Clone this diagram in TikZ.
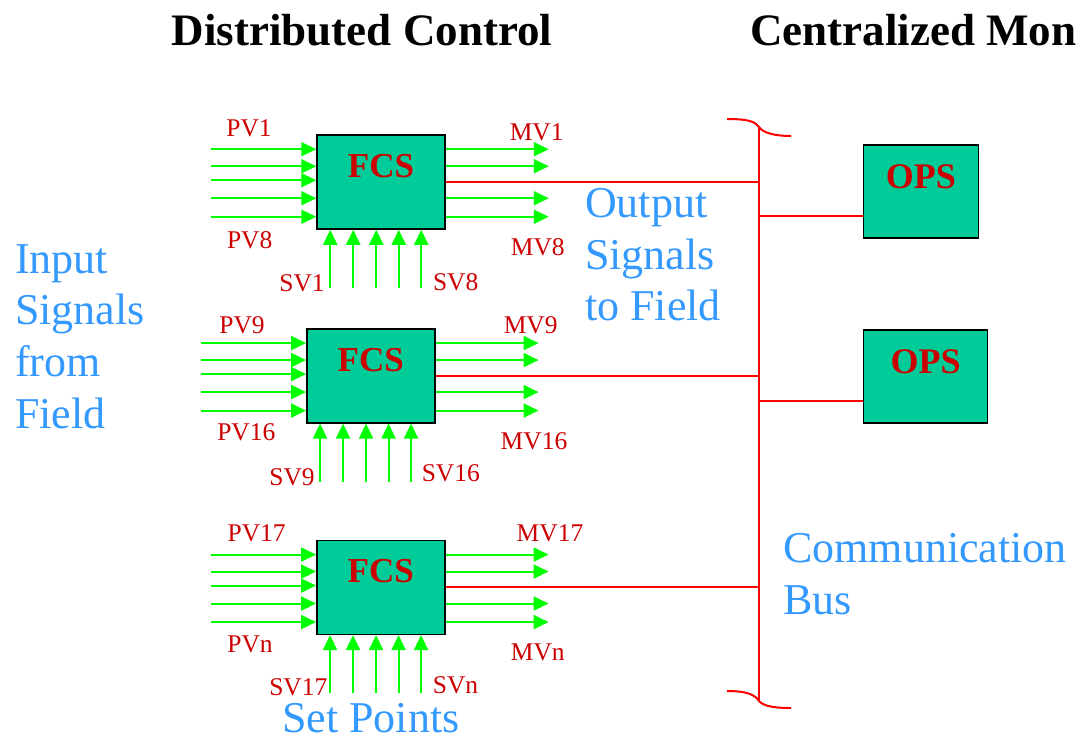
\documentclass[tikz,border=0pt]{standalone}
\usepackage{fontspec}
\setmainfont{Liberation Serif}
\usetikzlibrary{arrows.meta}
\definecolor{boxgreen}{HTML}{00CC99}
\definecolor{siggreen}{HTML}{00FF00}
\definecolor{tagred}{HTML}{CC0000}
\definecolor{busred}{HTML}{FF0000}
\definecolor{noteblue}{HTML}{3399FF}
\tikzset{
    unit/.style={draw, line width=1.5pt, fill=boxgreen, inner sep=0pt},
    fcs/.style={unit, minimum width=128pt, minimum height=94pt},
    unitname/.style={text=tagred, font=\fontsize{35}{40}\selectfont\bfseries, anchor=base, inner sep=0pt},
    tag/.style={text=tagred, font=\fontsize{25.5}{30}\selectfont, anchor=base, inner sep=0pt},
    note/.style={text=noteblue, font=\fontsize{44}{51.7}\selectfont, align=left, anchor=north west, inner sep=0pt},
    heading/.style={font=\fontsize{45}{50}\selectfont\bfseries, anchor=base west, inner sep=0pt},
    sig/.style={draw=siggreen, line width=2pt, -{Triangle[length=15pt, width=14pt]}},
    bus/.style={draw=busred, line width=2pt}
}
\begin{document}
\begin{tikzpicture}[x=1pt, y=-1pt]
\useasboundingbox (0,0) rectangle (1077,740);
\clip (0,0) rectangle (1077,740);

% headings
\node[heading] (hdist) at (171.7,45) {Distributed Control};
\node[heading] (hcent) at (750,45) {Centralized Monitoring};

% field control stations
\node[fcs] (fcsA) at (381,182) {};
\node[fcs] (fcsB) at (370.8,375.8) {};
\node[fcs] (fcsC) at (380.8,587.3) {};
\foreach \b in {fcsA,fcsB,fcsC}
  \node[unitname] (\b-t) at ([yshift=-43pt]\b.north) {FCS};

% operator stations
\node[unit, minimum width=115pt, minimum height=93pt] (opsA) at (920.8,191.5) {};
\node[unit, minimum width=124pt, minimum height=93pt] (opsB) at (925.5,376.7) {};
\foreach \b in {opsA,opsB}
  \node[unitname, font=\fontsize{36}{40}\selectfont\bfseries] (\b-t) at ([yshift=-44pt]\b.north) {OPS};

% signal arrows
\foreach \b in {fcsA,fcsB,fcsC}{
  \foreach \o in {15,32,46,64,82.5}
    \draw[sig] ([xshift=-105pt,yshift=-\o pt]\b.north west) -- ([yshift=-\o pt]\b.north west);
  \foreach \o in {15,32,64,82.5}
    \draw[sig] ([yshift=-\o pt]\b.north east) -- ([xshift=103pt,yshift=-\o pt]\b.north east);
  \foreach \o in {14,37,60,82.5,105}
    \draw[sig] ([xshift=\o pt,yshift=-58pt]\b.south west) -- ([xshift=\o pt]\b.south west);
}

% communication bus
\coordinate (busTop) at (759,127);
\coordinate (busBot) at (759,701);
\draw[bus] (busTop) -- (busBot);
\draw[bus] (727,119) .. controls (750,119) and (755,122) .. (busTop)
  .. controls (763,133) and (775,136) .. (791,136);
\draw[bus] (727,691) .. controls (748,691) and (755,695) .. (busBot)
  .. controls (764,707) and (778,708) .. (791,708);
\foreach \b in {fcsA,fcsB,fcsC}
  \draw[bus] (\b.east) -- (\b.east -| busTop);
\foreach \b in {opsA,opsB}{
  \coordinate (\b-in) at ([yshift=-24pt]\b.west);
  \draw[bus] (\b-in) -- (\b-in -| busTop);
}

% signal tags
\node[tag] (pvA) at (249,136) {PV1};
\node[tag] (pvAn) at (249.7,248) {PV8};
\node[tag] (mvA) at (536.7,140) {MV1};
\node[tag] (mvAn) at (537.8,255.7) {MV8};
\node[tag] (svA) at (302,291.7) {SV1};
\node[tag] (svAn) at (455.7,290) {SV8};
\node[tag] (pvB) at (242,333.3) {PV9};
\node[tag] (pvBn) at (246.3,440) {PV16};
\node[tag] (mvB) at (530.7,333) {MV9};
\node[tag] (mvBn) at (534,449) {MV16};
\node[tag] (svB) at (292,485) {SV9};
\node[tag] (svBn) at (450.8,481.7) {SV16};
\node[tag] (pvC) at (256.7,541.7) {PV17};
\node[tag] (pvCn) at (250,652.7) {PVn};
\node[tag] (mvC) at (550,541.7) {MV17};
\node[tag] (mvCn) at (537.8,660) {MVn};
\node[tag] (svC) at (298.3,695) {SV17};
\node[tag] (svCn) at (455.5,693.3) {SVn};

% notes
\node[note] (inNote) at (15,244) {Input\\Signals\\from\\Field};
\node[note] (outNote) at (585,188) {Output\\Signals\\to Field};
\node[note] (busNote) at (783,533) {Communication\\Bus};
\node[note, anchor=base] (spNote) at (370.8,732) {Set Points};
\end{tikzpicture}
\end{document}
